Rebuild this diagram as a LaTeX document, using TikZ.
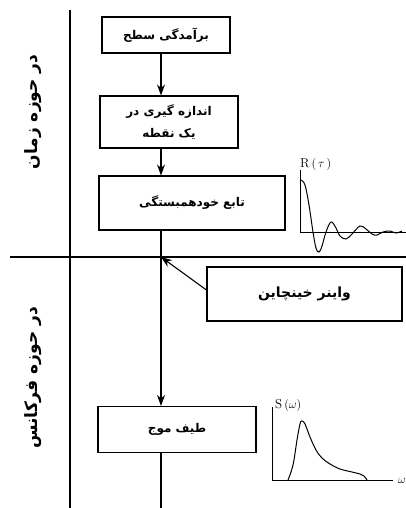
\documentclass[tikz,border=0pt]{standalone}
\usepackage{fontspec}
\newfontfamily\farsi[Script=Arabic]{DejaVu Sans}
\TeXXeTstate=1
\usetikzlibrary{arrows.meta}

\begin{document}
\begin{tikzpicture}[x=1pt, y=-1pt, >={Stealth[length=11pt,width=8pt]},
	every box/.style={draw, line width=1.1pt, font=\farsi\fontsize{12}{14}\selectfont\bfseries, align=center, inner sep=0pt},
	flow/.style={line width=1.1pt},
	domain label/.style={font=\farsi\fontsize{17}{20}\selectfont\bfseries, rotate=90},
	plot label/.style={inner sep=0pt, font=\fontsize{13}{15}\selectfont},
	curve/.style={line width=1pt, smooth, tension=0.6}]

		\useasboundingbox (0,0) rectangle (406,508);

		% dividers
		\draw [flow] (70,10) -- (70,508);
		\draw [flow] (10,257) -- (406,257);

		% domain labels
		\node [domain label] (time) at (33,112) {\beginR در حوزه زمان\endR};
		\node [domain label] (freq) at (33,378) {\beginR در حوزه فرکانس\endR};

		% boxes
		\node [every box, minimum width=128pt, minimum height=36pt] (surf) at (166,35) {\beginR برآمدگی سطح\endR};
		\node [every box, minimum width=138pt, minimum height=52pt] (meas) at (169,122) {\beginR اندازه گیری در\endR\\[8pt]\beginR یک نقطه\endR};
		\node [every box, minimum width=186pt, minimum height=54pt] (acf) at (192,203) {\beginR تابع خودهمبستگی\endR};
		\node [every box, minimum width=158pt, minimum height=46pt] (spec) at (177,429.5) {\beginR طیف موج\endR};
		\node [every box, minimum width=195pt, minimum height=54pt, font=\farsi\fontsize{14}{16}\selectfont\bfseries] (wk) at (304.5,294) {\beginR واینر خینچاین\endR};

		% flow line
		\coordinate (flow) at (161,0);
		\coordinate (cross) at (161,257);
		\coordinate (bottom) at (161,508);

		\foreach \a/\b in {surf/meas, meas/acf, acf/spec}
			\draw [flow, ->] (\a.south -| flow) -- (\b.north -| flow);
		\draw [flow] (spec.south -| flow) -- (bottom);

		% wiener-khinchin
		\draw [flow, ->] ([yshift=4pt]wk.west) -- (cross);

		% autocorrelation sketch
		\draw [line width=0.9pt] (300,170) -- (300,232) -- (406,232);
		\node [plot label, anchor=south west] (rlabel) at (300,171) {$\mathrm{R}\,(\,\tau\,)$};
		\draw [curve] plot coordinates {(301,180) (305,185) (309,205) (313,232) (316,248) (319,252) (322,246) (326,232) (331,222) (336,228) (340,236) (346,239) (352,234) (360,226) (366,229) (372,234) (377,235) (383,232) (390,231) (396,233) (402,231)};

		% spectrum sketch
		\draw [line width=0.9pt] (272,407) -- (272,480) -- (393,480);
		\node [plot label, anchor=south west] (slabel) at (275,412) {$\mathrm{S}\,(\omega)$};
		\node [plot label, anchor=west] (wlabel) at (398,481) {$\omega$};
		\draw [curve] plot coordinates {(288,480) (293,465) (297,440) (300,424) (302,421) (305,424) (310,437) (316,450) (322,458) (330,464) (340,469) (352,472) (360,474) (364,476) (367,480)};

\end{tikzpicture}
\end{document}
